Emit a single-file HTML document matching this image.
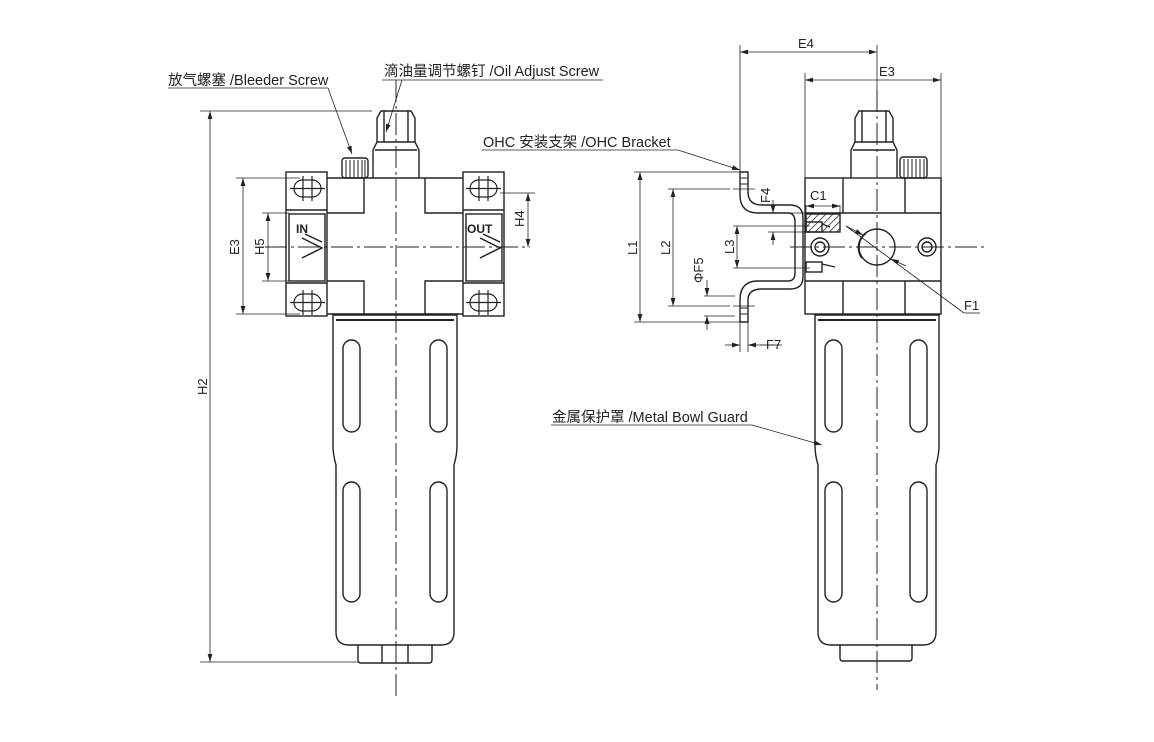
<!DOCTYPE html>
<html><head><meta charset="utf-8"><style>
html,body{margin:0;padding:0;background:#fff}
svg{display:block}
text{font-family:"Liberation Sans","Noto Sans CJK SC",sans-serif;fill:#222}
</style></head><body>
<svg width="1154" height="742" viewBox="0 0 1154 742" xmlns="http://www.w3.org/2000/svg">
<defs>
<marker id="a" viewBox="0 0 10 6" refX="10" refY="3" markerWidth="10" markerHeight="6" orient="auto-start-reverse"><path d="M0,0 L10,3 L0,6 z" fill="#222"/></marker>
<pattern id="h" width="5" height="5" patternUnits="userSpaceOnUse" patternTransform="rotate(45)"><line x1="0" y1="0" x2="0" y2="5" stroke="#222" stroke-width="1.5"/></pattern>
</defs>
<g fill="none" stroke="#222" stroke-width="1.4">
<rect x="286" y="172" width="41" height="144"/>
<rect x="463" y="172" width="41" height="144"/>
<line x1="286" y1="210" x2="327" y2="210"/><line x1="286" y1="283" x2="327" y2="283"/>
<line x1="463" y1="210" x2="504" y2="210"/><line x1="463" y1="283" x2="504" y2="283"/>
<rect x="289" y="214" width="36" height="67"/>
<rect x="466" y="214" width="36" height="67"/>
<g stroke-width="1.2">
<rect x="294" y="180" width="27" height="17" rx="8.5"/><line x1="303" y1="176" x2="303" y2="201"/><line x1="312" y1="176" x2="312" y2="201"/><line x1="290" y1="188.5" x2="325" y2="188.5"/>
<rect x="294" y="294" width="27" height="17" rx="8.5"/><line x1="303" y1="290" x2="303" y2="315"/><line x1="312" y1="290" x2="312" y2="315"/><line x1="290" y1="302.5" x2="325" y2="302.5"/>
<rect x="470" y="180" width="27" height="17" rx="8.5"/><line x1="479" y1="176" x2="479" y2="201"/><line x1="488" y1="176" x2="488" y2="201"/><line x1="466" y1="188.5" x2="501" y2="188.5"/>
<rect x="470" y="294" width="27" height="17" rx="8.5"/><line x1="479" y1="290" x2="479" y2="315"/><line x1="488" y1="290" x2="488" y2="315"/><line x1="466" y1="302.5" x2="501" y2="302.5"/>
</g>
<path d="M327,178 H463 M327,314 H463 M364,178 V213 H327 M425,178 V213 H463 M364,314 V281 H327 M425,314 V281 H463"/>
<path d="M302,238 L322,248 L302,258 M305,234 L322,242" stroke-width="1.5"/>
<path d="M480,238 L500,248 L480,258 M483,234 L500,242" stroke-width="1.5"/>
<path d="M373,178 V150 L377,142 V118 L381,111 H411 L415,118 V142 L419,150 V178"/>
<line x1="377" y1="142" x2="415" y2="142"/><line x1="375" y1="150" x2="417" y2="150"/>
<line x1="384" y1="111" x2="384" y2="142"/><line x1="408" y1="111" x2="408" y2="142"/>
<rect x="342" y="158" width="26" height="20" rx="3"/>
<g stroke-width="1"><line x1="346" y1="160" x2="346" y2="178"/><line x1="350" y1="160" x2="350" y2="178"/><line x1="354" y1="160" x2="354" y2="178"/><line x1="358" y1="160" x2="358" y2="178"/><line x1="362" y1="160" x2="362" y2="178"/><line x1="365" y1="160" x2="365" y2="178"/></g>
<path d="M333,315 V445 Q333,455 336,465 V632 Q336,645 349,645 H441 Q454,645 454,632 V465 Q457,455 457,445 V315 Z"/>
<line x1="336" y1="320" x2="454" y2="320" stroke-width="2"/>
<path d="M358,645 V660 Q358,663 361,663 H429 Q432,663 432,660 V645 M382,645 V663 M408,645 V663"/>
<rect x="343" y="340" width="17" height="92" rx="8.5"/><rect x="430" y="340" width="17" height="92" rx="8.5"/>
<rect x="343" y="482" width="17" height="120" rx="8.5"/><rect x="430" y="482" width="17" height="120" rx="8.5"/>

<rect x="805" y="178" width="136" height="136"/>
<line x1="805" y1="213" x2="941" y2="213"/><line x1="805" y1="281" x2="941" y2="281"/>
<line x1="843" y1="178" x2="843" y2="213"/><line x1="905" y1="178" x2="905" y2="213"/>
<line x1="843" y1="281" x2="843" y2="314"/><line x1="905" y1="281" x2="905" y2="314"/>
<rect x="806" y="214" width="34" height="18" fill="url(#h)" stroke="none"/>
<rect x="806" y="214" width="34" height="18"/>
<circle cx="877" cy="247" r="18"/><path d="M862,258 A18,18 0 0 1 866,233" stroke-width="2"/>
<circle cx="820" cy="247" r="9"/><circle cx="820" cy="247" r="5"/>
<circle cx="927" cy="247" r="9"/><circle cx="927" cy="247" r="5"/>
<rect x="806" y="222" width="16" height="10"/><line x1="822" y1="224" x2="830" y2="227"/>
<rect x="806" y="262" width="16" height="10"/><line x1="822" y1="264" x2="835" y2="267"/>
<path d="M851,178 V150 L855,142 V118 L859,111 H889 L893,118 V142 L897,150 V178"/>
<line x1="855" y1="142" x2="893" y2="142"/><line x1="853" y1="150" x2="895" y2="150"/>
<line x1="862" y1="111" x2="862" y2="142"/><line x1="886" y1="111" x2="886" y2="142"/>
<rect x="900" y="157" width="27" height="21" rx="3"/>
<g stroke-width="1"><line x1="904" y1="159" x2="904" y2="178"/><line x1="908" y1="159" x2="908" y2="178"/><line x1="912" y1="159" x2="912" y2="178"/><line x1="916" y1="159" x2="916" y2="178"/><line x1="920" y1="159" x2="920" y2="178"/><line x1="924" y1="159" x2="924" y2="178"/></g>
<path d="M815,315 V445 Q815,455 818,465 V632 Q818,645 831,645 H923 Q936,645 936,632 V465 Q939,455 939,445 V315 Z"/>
<line x1="818" y1="320" x2="936" y2="320" stroke-width="2"/>
<path d="M840,645 V658 Q840,661 843,661 H909 Q912,661 912,658 V645"/>
<rect x="825" y="340" width="17" height="92" rx="8.5"/><rect x="910" y="340" width="17" height="92" rx="8.5"/>
<rect x="825" y="482" width="17" height="120" rx="8.5"/><rect x="910" y="482" width="17" height="120" rx="8.5"/>
<path d="M740,172 H748 V192 Q748,205 762,205 H790 Q803,205 803,218 V277 Q803,289 790,289 H762 Q748,289 748,300 V322 H740 V300 Q740,281 758,281 H788 Q795,281 795,273 V222 Q795,213 788,213 H758 Q740,213 740,195 Z"/>
<g stroke-width="1"><line x1="740" y1="178" x2="748" y2="178"/><line x1="740" y1="184" x2="748" y2="184"/><line x1="740" y1="308" x2="748" y2="308"/><line x1="740" y1="314" x2="748" y2="314"/></g>
</g>

<g stroke="#222" stroke-width="1" fill="none" stroke-dasharray="22,4,3,4">
<line x1="396" y1="80" x2="396" y2="698"/>
<line x1="877" y1="90" x2="877" y2="690"/>
<line x1="265" y1="247" x2="530" y2="247"/>
<line x1="790" y1="247" x2="988" y2="247"/>
</g>

<g stroke="#222" stroke-width="0.8" fill="none">
<line x1="200" y1="111" x2="372" y2="111"/><line x1="200" y1="662" x2="358" y2="662"/>
<line x1="210" y1="111" x2="210" y2="662" marker-start="url(#a)" marker-end="url(#a)"/>
<line x1="236" y1="178" x2="300" y2="178"/><line x1="236" y1="314" x2="300" y2="314"/>
<line x1="243" y1="178" x2="243" y2="314" marker-start="url(#a)" marker-end="url(#a)"/>
<line x1="262" y1="213" x2="289" y2="213"/><line x1="262" y1="281" x2="289" y2="281"/>
<line x1="268" y1="213" x2="268" y2="281" marker-start="url(#a)" marker-end="url(#a)"/>
<line x1="500" y1="193" x2="535" y2="193"/>
<line x1="528" y1="193" x2="528" y2="247" marker-start="url(#a)" marker-end="url(#a)"/>
<line x1="740" y1="45" x2="740" y2="172"/><line x1="877" y1="45" x2="877" y2="90"/>
<line x1="740" y1="52" x2="877" y2="52" marker-start="url(#a)" marker-end="url(#a)"/>
<line x1="805" y1="73" x2="805" y2="178"/><line x1="941" y1="73" x2="941" y2="178"/>
<line x1="805" y1="80" x2="941" y2="80" marker-start="url(#a)" marker-end="url(#a)"/>
<line x1="634" y1="172" x2="740" y2="172"/><line x1="634" y1="322" x2="740" y2="322"/>
<line x1="640" y1="172" x2="640" y2="322" marker-start="url(#a)" marker-end="url(#a)"/>
<line x1="668" y1="189" x2="730" y2="189"/><line x1="668" y1="306" x2="730" y2="306"/>
<line x1="673" y1="189" x2="673" y2="306" marker-start="url(#a)" marker-end="url(#a)"/>
<line x1="733" y1="189" x2="755" y2="189"/><line x1="733" y1="306" x2="755" y2="306"/>
<line x1="733" y1="226" x2="810" y2="226"/><line x1="733" y1="268" x2="810" y2="268"/>
<line x1="737" y1="226" x2="737" y2="268" marker-start="url(#a)" marker-end="url(#a)"/>
<line x1="704" y1="296" x2="735" y2="296"/><line x1="704" y1="316" x2="735" y2="316"/>
<line x1="707" y1="280" x2="707" y2="296" marker-end="url(#a)"/><line x1="707" y1="330" x2="707" y2="316" marker-end="url(#a)"/>
<line x1="773" y1="200" x2="773" y2="213" marker-end="url(#a)"/><line x1="773" y1="245" x2="773" y2="232" marker-end="url(#a)"/>
<line x1="768" y1="213" x2="806" y2="213"/><line x1="768" y1="232" x2="806" y2="232"/>
<line x1="740" y1="322" x2="740" y2="352"/><line x1="748" y1="322" x2="748" y2="352"/>
<line x1="725" y1="345" x2="740" y2="345" marker-end="url(#a)"/><line x1="780" y1="345" x2="748" y2="345" marker-end="url(#a)"/>
<line x1="760" y1="345" x2="782" y2="345"/>
<line x1="806" y1="205" x2="806" y2="213"/><line x1="840" y1="205" x2="840" y2="213"/>
<line x1="806" y1="206" x2="840" y2="206" marker-start="url(#a)" marker-end="url(#a)"/>
<line x1="168" y1="88" x2="328" y2="88"/><line x1="328" y1="88" x2="352" y2="154" marker-end="url(#a)"/>
<line x1="382" y1="80" x2="603" y2="80"/><line x1="402" y1="80" x2="386" y2="132" marker-end="url(#a)"/>
<line x1="482" y1="150" x2="678" y2="150"/><line x1="678" y1="150" x2="740" y2="170" marker-end="url(#a)"/>
<line x1="551" y1="425" x2="752" y2="425"/><line x1="752" y1="425" x2="822" y2="445" marker-end="url(#a)"/>
<line x1="964" y1="313" x2="980" y2="313"/><line x1="964" y1="313" x2="846" y2="226"/>
<line x1="846" y1="226" x2="863" y2="235" marker-end="url(#a)"/><line x1="906" y1="266" x2="891" y2="259" marker-end="url(#a)"/>
</g>

<g font-size="14.5">
<text x="168" y="85">放气螺塞 /Bleeder Screw</text>
<text x="384" y="76">滴油量调节螺钉 /Oil Adjust Screw</text>
<text x="483" y="147">OHC 安装支架 /OHC Bracket</text>
<text x="552" y="422">金属保护罩 /Metal Bowl Guard</text>
</g>
<g font-size="13">
<text x="798" y="48">E4</text>
<text x="879" y="76">E3</text>
<text x="964" y="310">F1</text>
<text x="810" y="200">C1</text>
<text x="766" y="349">F7</text>
<text transform="translate(207,395) rotate(-90)">H2</text>
<text transform="translate(239,255) rotate(-90)">E3</text>
<text transform="translate(264,255) rotate(-90)">H5</text>
<text transform="translate(524,227) rotate(-90)">H4</text>
<text transform="translate(637,255) rotate(-90)">L1</text>
<text transform="translate(670,255) rotate(-90)">L2</text>
<text transform="translate(734,254) rotate(-90)">L3</text>
<text transform="translate(703,283) rotate(-90)">ΦF5</text>
<text transform="translate(770,203) rotate(-90)">F4</text>
</g>
<g font-size="12" font-weight="bold">
<text x="296" y="233">IN</text>
<text x="467" y="233">OUT</text>
</g>
</svg>
</body></html>
